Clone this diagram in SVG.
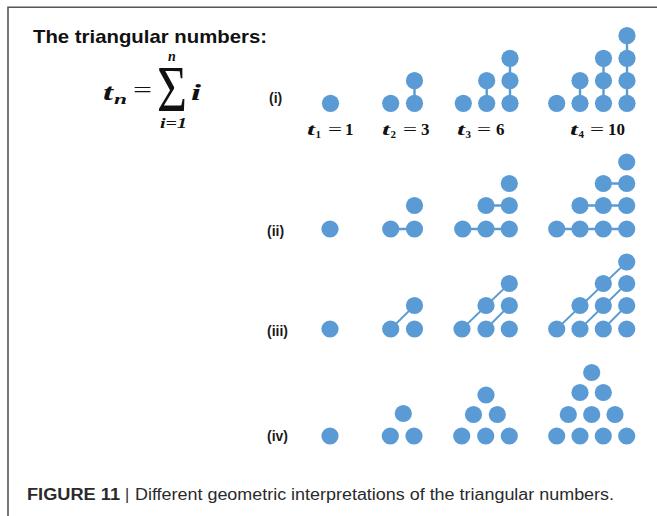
<svg xmlns="http://www.w3.org/2000/svg" width="657" height="516" viewBox="0 0 657 516">
<style>
.dot{fill:#5B9BD5}
.ln{stroke:#5B9BD5;stroke-width:2.4;fill:none}
.dg{stroke:#5B9BD5;stroke-width:1.8;fill:none}
.lab{font-family:"Liberation Sans",Arial,sans-serif;font-weight:bold;font-size:14px;fill:#1a1a1a}
.m{font-family:"Liberation Serif","DejaVu Serif",serif;font-weight:bold;fill:#111}
.mi{font-style:italic}
.mn{font-family:"Liberation Serif","DejaVu Serif",serif;font-weight:normal;fill:#111}
</style>
<rect width="657" height="516" fill="#fff"/>
<path d="M8 516 V7.3 H657" fill="none" stroke="#555" stroke-width="1.6"/>
<text x="33" y="43" font-family="Liberation Sans,Arial,sans-serif" font-weight="bold" font-size="19" fill="#111" textLength="234" lengthAdjust="spacingAndGlyphs">The triangular numbers:</text>
<g id="formula">
<text class="m mi" x="103" y="100" font-size="23" textLength="10" lengthAdjust="spacingAndGlyphs">t</text>
<text class="m mi" x="114" y="104" font-size="15" textLength="13" lengthAdjust="spacingAndGlyphs">n</text>
<text class="mn" x="133" y="97" font-size="22" textLength="19" lengthAdjust="spacingAndGlyphs">=</text>
<text class="mn" transform="translate(157,111) scale(1,1.62)" font-size="40" textLength="30" lengthAdjust="spacingAndGlyphs">Σ</text>
<text class="m mi" x="168" y="61" font-size="14">n</text>
<text class="m mi" x="191" y="100" font-size="23" textLength="10" lengthAdjust="spacingAndGlyphs">i</text>
<text class="m mi" x="160" y="128" font-size="14" textLength="27" lengthAdjust="spacingAndGlyphs">i=1</text>
</g>
<text class="lab" x="269" y="103">(i)</text>
<text class="lab" x="267" y="236">(ii)</text>
<text class="lab" x="267" y="336">(iii)</text>
<text class="lab" x="267" y="441">(iv)</text>
<g id="values" class="m" font-size="17">
<text class="mi" x="307" y="135" textLength="8" lengthAdjust="spacingAndGlyphs">t</text><text x="315.5" y="138" font-size="11">1</text><text class="mn" x="328" y="135" textLength="14" lengthAdjust="spacingAndGlyphs">=</text><text x="345" y="135">1</text>
<text class="mi" x="382" y="135" textLength="8" lengthAdjust="spacingAndGlyphs">t</text><text x="390.5" y="138" font-size="11">2</text><text class="mn" x="403" y="135" textLength="14" lengthAdjust="spacingAndGlyphs">=</text><text x="421" y="135">3</text>
<text class="mi" x="457" y="135" textLength="8" lengthAdjust="spacingAndGlyphs">t</text><text x="465.5" y="138" font-size="11">3</text><text class="mn" x="477" y="135" textLength="14" lengthAdjust="spacingAndGlyphs">=</text><text x="496" y="135">6</text>
<text class="mi" x="570" y="135" textLength="8" lengthAdjust="spacingAndGlyphs">t</text><text x="578.5" y="138" font-size="11">4</text><text class="mn" x="590" y="135" textLength="14" lengthAdjust="spacingAndGlyphs">=</text><text x="608" y="135">10</text>
</g>
<g id="connectors">
<path class="ln" d="M414.5 103V80.5 M486.7 103V80.5 M510 103V58 M580 103V80.5 M603.5 103V58 M627 103V35.7"/>
<path class="ln" d="M390.7 229H414.5 M462.7 229H509.3 M486 205.5H509.3 M556.7 229H626.7 M580 205.5H626.7 M603.3 183.5H626.7"/>
<path class="dg" d="M390.7 329L414.5 305.5 M462 329L509.3 283.5 M486 329L509.3 305.5 M556.7 329L626.7 262 M580 329L626.7 283.5 M603.3 329L626.7 305.5"/>
</g>
<g id="row-i">
<g id="i1-a"><circle class="dot" cx="330.5" cy="103.3" r="8.6"/></g>
<g id="i2-a"><circle class="dot" cx="390.7" cy="103.3" r="8.6"/></g>
<g id="i2-b"><circle class="dot" cx="414.5" cy="103.3" r="8.6"/></g>
<g id="i2-c"><circle class="dot" cx="414.5" cy="80.7" r="8.6"/></g>
<g id="i3-a"><circle class="dot" cx="463.3" cy="103.3" r="8.6"/></g>
<g id="i3-b"><circle class="dot" cx="486.7" cy="103.3" r="8.6"/></g>
<g id="i3-c"><circle class="dot" cx="486.7" cy="80.7" r="8.6"/></g>
<g id="i3-d"><circle class="dot" cx="510" cy="103.3" r="8.6"/></g>
<g id="i3-e"><circle class="dot" cx="510" cy="80.7" r="8.6"/></g>
<g id="i3-f"><circle class="dot" cx="510" cy="58.3" r="8.6"/></g>
<g id="i4-a"><circle class="dot" cx="556.7" cy="103.3" r="8.6"/></g>
<g id="i4-b"><circle class="dot" cx="580" cy="103.3" r="8.6"/></g>
<g id="i4-c"><circle class="dot" cx="580" cy="80.7" r="8.6"/></g>
<g id="i4-d"><circle class="dot" cx="603.5" cy="103.3" r="8.6"/></g>
<g id="i4-e"><circle class="dot" cx="603.5" cy="80.7" r="8.6"/></g>
<g id="i4-f"><circle class="dot" cx="603.5" cy="58.3" r="8.6"/></g>
<g id="i4-g"><circle class="dot" cx="627" cy="103.3" r="8.6"/></g>
<g id="i4-h"><circle class="dot" cx="627" cy="80.7" r="8.6"/></g>
<g id="i4-i"><circle class="dot" cx="627" cy="58.3" r="8.6"/></g>
<g id="i4-j"><circle class="dot" cx="627" cy="35.7" r="8.6"/></g>
</g>
<g id="row-ii">
<g id="ii1-a"><circle class="dot" cx="330" cy="229" r="8.6"/></g>
<g id="ii2-a"><circle class="dot" cx="390.7" cy="229" r="8.6"/></g>
<g id="ii2-b"><circle class="dot" cx="414.5" cy="229" r="8.6"/></g>
<g id="ii2-c"><circle class="dot" cx="414.5" cy="205.5" r="8.6"/></g>
<g id="ii3-a"><circle class="dot" cx="462.7" cy="229" r="8.6"/></g>
<g id="ii3-b"><circle class="dot" cx="486" cy="229" r="8.6"/></g>
<g id="ii3-c"><circle class="dot" cx="486" cy="205.5" r="8.6"/></g>
<g id="ii3-d"><circle class="dot" cx="509.3" cy="229" r="8.6"/></g>
<g id="ii3-e"><circle class="dot" cx="509.3" cy="205.5" r="8.6"/></g>
<g id="ii3-f"><circle class="dot" cx="509.3" cy="183.5" r="8.6"/></g>
<g id="ii4-a"><circle class="dot" cx="556.7" cy="229" r="8.6"/></g>
<g id="ii4-b"><circle class="dot" cx="580" cy="229" r="8.6"/></g>
<g id="ii4-c"><circle class="dot" cx="580" cy="205.5" r="8.6"/></g>
<g id="ii4-d"><circle class="dot" cx="603.3" cy="229" r="8.6"/></g>
<g id="ii4-e"><circle class="dot" cx="603.3" cy="205.5" r="8.6"/></g>
<g id="ii4-f"><circle class="dot" cx="603.3" cy="183.5" r="8.6"/></g>
<g id="ii4-g"><circle class="dot" cx="626.7" cy="229" r="8.6"/></g>
<g id="ii4-h"><circle class="dot" cx="626.7" cy="205.5" r="8.6"/></g>
<g id="ii4-i"><circle class="dot" cx="626.7" cy="183.5" r="8.6"/></g>
<g id="ii4-j"><circle class="dot" cx="626.7" cy="162" r="8.6"/></g>
</g>
<g id="row-iii">
<g id="iii1-a"><circle class="dot" cx="330" cy="329" r="8.6"/></g>
<g id="iii2-a"><circle class="dot" cx="390.7" cy="329" r="8.6"/></g>
<g id="iii2-b"><circle class="dot" cx="414.5" cy="329" r="8.6"/></g>
<g id="iii2-c"><circle class="dot" cx="414.5" cy="305.5" r="8.6"/></g>
<g id="iii3-a"><circle class="dot" cx="462" cy="329" r="8.6"/></g>
<g id="iii3-b"><circle class="dot" cx="486" cy="329" r="8.6"/></g>
<g id="iii3-c"><circle class="dot" cx="486" cy="305.5" r="8.6"/></g>
<g id="iii3-d"><circle class="dot" cx="509.3" cy="329" r="8.6"/></g>
<g id="iii3-e"><circle class="dot" cx="509.3" cy="305.5" r="8.6"/></g>
<g id="iii3-f"><circle class="dot" cx="509.3" cy="283.5" r="8.6"/></g>
<g id="iii4-a"><circle class="dot" cx="556.7" cy="329" r="8.6"/></g>
<g id="iii4-b"><circle class="dot" cx="580" cy="329" r="8.6"/></g>
<g id="iii4-c"><circle class="dot" cx="580" cy="305.5" r="8.6"/></g>
<g id="iii4-d"><circle class="dot" cx="603.3" cy="329" r="8.6"/></g>
<g id="iii4-e"><circle class="dot" cx="603.3" cy="305.5" r="8.6"/></g>
<g id="iii4-f"><circle class="dot" cx="603.3" cy="283.5" r="8.6"/></g>
<g id="iii4-g"><circle class="dot" cx="626.7" cy="329" r="8.6"/></g>
<g id="iii4-h"><circle class="dot" cx="626.7" cy="305.5" r="8.6"/></g>
<g id="iii4-i"><circle class="dot" cx="626.7" cy="283.5" r="8.6"/></g>
<g id="iii4-j"><circle class="dot" cx="626.7" cy="262" r="8.6"/></g>
</g>
<g id="row-iv">
<g id="iv1-a"><circle class="dot" cx="330" cy="436" r="8.6"/></g>
<g id="iv2-a"><circle class="dot" cx="390.3" cy="436" r="8.6"/></g>
<g id="iv2-b"><circle class="dot" cx="414" cy="436" r="8.6"/></g>
<g id="iv2-c"><circle class="dot" cx="403.3" cy="413.5" r="8.6"/></g>
<g id="iv3-a"><circle class="dot" cx="461.7" cy="436" r="8.6"/></g>
<g id="iv3-b"><circle class="dot" cx="485.7" cy="436" r="8.6"/></g>
<g id="iv3-c"><circle class="dot" cx="509.3" cy="436" r="8.6"/></g>
<g id="iv3-d"><circle class="dot" cx="473.5" cy="414.5" r="8.6"/></g>
<g id="iv3-e"><circle class="dot" cx="497.3" cy="414.5" r="8.6"/></g>
<g id="iv3-f"><circle class="dot" cx="486" cy="395" r="8.6"/></g>
<g id="iv4-a"><circle class="dot" cx="556.7" cy="436" r="8.6"/></g>
<g id="iv4-b"><circle class="dot" cx="580" cy="436" r="8.6"/></g>
<g id="iv4-c"><circle class="dot" cx="603.3" cy="436" r="8.6"/></g>
<g id="iv4-d"><circle class="dot" cx="626.7" cy="436" r="8.6"/></g>
<g id="iv4-e"><circle class="dot" cx="568.3" cy="414.5" r="8.6"/></g>
<g id="iv4-f"><circle class="dot" cx="591.7" cy="414.5" r="8.6"/></g>
<g id="iv4-g"><circle class="dot" cx="615" cy="414.5" r="8.6"/></g>
<g id="iv4-h"><circle class="dot" cx="580" cy="392.5" r="8.6"/></g>
<g id="iv4-i"><circle class="dot" cx="603.3" cy="392.5" r="8.6"/></g>
<g id="iv4-j"><circle class="dot" cx="591.7" cy="372.5" r="8.6"/></g>
</g>
<text x="27" y="500" font-family="Liberation Sans,Arial,sans-serif" font-size="16" fill="#2a2a2a"><tspan font-weight="bold" textLength="93" lengthAdjust="spacingAndGlyphs">FIGURE 11</tspan><tspan x="125" font-weight="normal">|</tspan><tspan x="135" textLength="479" lengthAdjust="spacingAndGlyphs">Different geometric interpretations of the triangular numbers.</tspan></text>
</svg>
